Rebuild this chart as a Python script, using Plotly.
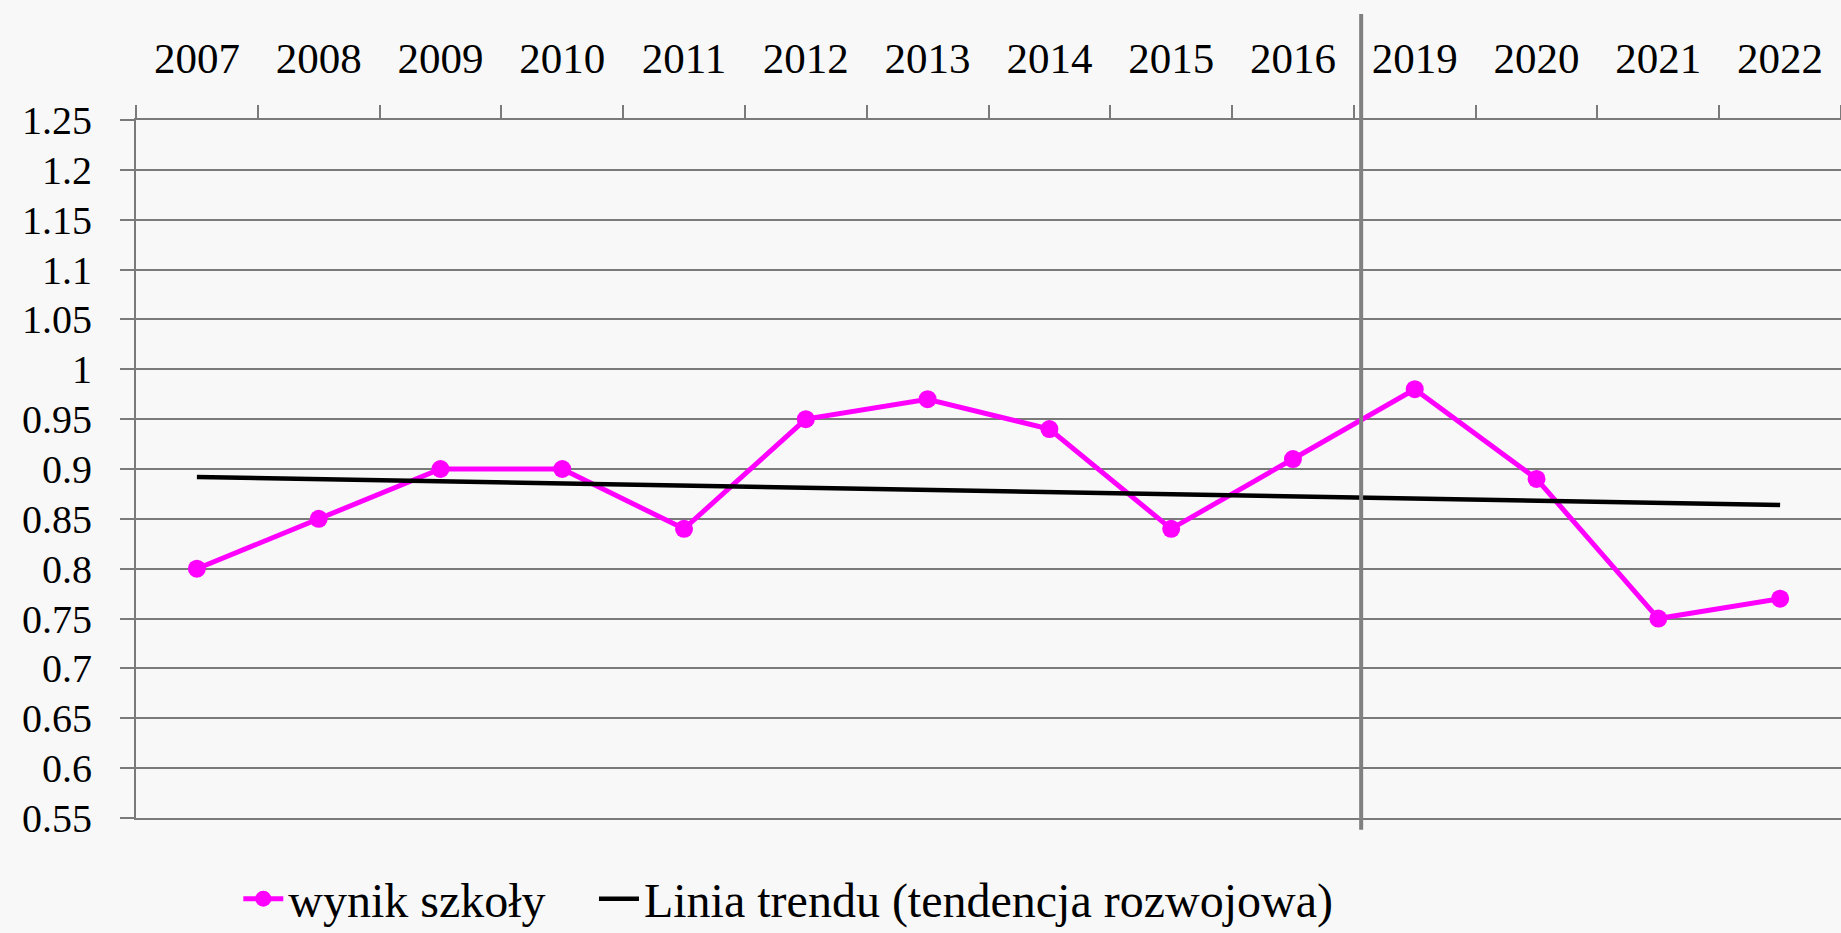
import plotly.graph_objects as go

years = ["2007", "2008", "2009", "2010", "2011", "2012", "2013",
         "2014", "2015", "2016", "2019", "2020", "2021", "2022"]
wynik = [0.80, 0.85, 0.90, 0.90, 0.84, 0.95, 0.97,
         0.94, 0.84, 0.91, 0.98, 0.89, 0.75, 0.77]
trend_years = ["2007", "2022"]
trend_values = [0.892, 0.864]
y_tick_vals = [0.55, 0.6, 0.65, 0.7, 0.75, 0.8, 0.85, 0.9, 0.95,
               1.0, 1.05, 1.1, 1.15, 1.2, 1.25]
y_tick_text = ["0.55", "0.6", "0.65", "0.7", "0.75", "0.8", "0.85", "0.9",
               "0.95", "1", "1.05", "1.1", "1.15", "1.2", "1.25"]
separator_x = 9.56  # between 2016 and 2019

FONT = "Liberation Serif"
GRID = "#7a7a7a"

fig = go.Figure()
fig.add_trace(go.Scatter(
    x=years, y=wynik, name="wynik szkoły", mode="lines+markers",
    line=dict(color="#ff00ff", width=5),
    marker=dict(color="#ff00ff", size=18),
    legend="legend",
))
fig.add_trace(go.Scatter(
    x=trend_years, y=trend_values, name="Linia trendu (tendencja rozwojowa)",
    mode="lines", line=dict(color="#000000", width=4.5),
    legend="legend2",
))

fig.add_shape(type="line", xref="x", yref="paper",
              x0=separator_x, x1=separator_x, y0=-0.017, y1=1.152,
              line=dict(color="#808080", width=4), layer="above")

legend_common = dict(orientation="h", xanchor="left", y=-0.116,
                     yanchor="middle", font=dict(size=48, family=FONT),
                     bgcolor="rgba(0,0,0,0)", itemwidth=40)

fig.update_layout(
    width=1841, height=933,
    margin=dict(l=136, r=0, t=120, b=115, autoexpand=False),
    paper_bgcolor="#f8f8f8", plot_bgcolor="rgba(0,0,0,0)",
    font=dict(family=FONT, color="#000000", size=40),
    showlegend=True,
    legend=dict(x=0.060, **legend_common),
    legend2=dict(x=0.2686, **legend_common),
    xaxis=dict(
        type="category", categoryorder="array", categoryarray=years,
        side="top", range=[-0.5, 13.5], showgrid=False,
        showline=True, linecolor=GRID, linewidth=2, mirror=True,
        ticks="outside", tickson="boundaries", ticklen=13, tickwidth=2,
        tickcolor=GRID, tickfont=dict(size=43, family=FONT),
        ticklabelstandoff=28,
    ),
    yaxis=dict(
        range=[0.55, 1.25], tickvals=y_tick_vals, ticktext=y_tick_text,
        showgrid=True, gridcolor=GRID, gridwidth=2, zeroline=False,
        showline=True, linecolor=GRID, linewidth=2,
        ticks="outside", ticklen=14, tickwidth=2, tickcolor=GRID,
        tickfont=dict(size=40, family=FONT), ticklabelstandoff=20,
    ),
)

fig.write_html(
    "out.html",
    config={"displayModeBar": False},
    post_script="document.body.style.margin='0';document.body.style.overflow='hidden';",
)
